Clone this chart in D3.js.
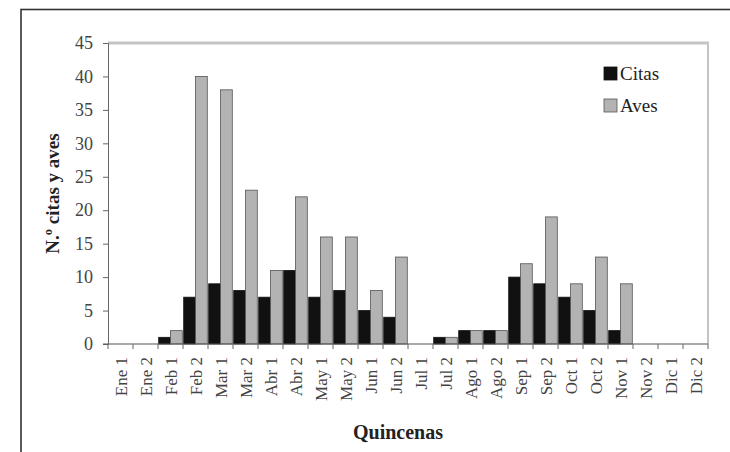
<!DOCTYPE html>
<html><head><meta charset="utf-8">
<script src="https://cdn.jsdelivr.net/npm/d3@7"></script>
<style>body{margin:0;background:#fff}svg{display:block}</style>
</head><body><svg id="c" width="730" height="452"></svg>
<script>
const categories = ["Ene 1","Ene 2","Feb 1","Feb 2","Mar 1","Mar 2","Abr 1","Abr 2","May 1","May 2","Jun 1","Jun 2","Jul 1","Jul 2","Ago 1","Ago 2","Sep 1","Sep 2","Oct 1","Oct 2","Nov 1","Nov 2","Dic 1","Dic 2"];
const citas = [0,0,1,7,9,8,7,11,7,8,5,4,0,1,2,2,10,9,7,5,2,0,0,0];
const aves  = [0,0,2,40,38,23,11,22,16,16,8,13,0,1,2,2,12,19,9,13,9,0,0,0];
const seriesNames = ["Citas","Aves"];
const yTicks = [0,5,10,15,20,25,30,35,40,45];

const FONT = "'Liberation Serif','Times New Roman',serif";
const svg = d3.select("#c");
const L = 108, R = 708, T = 43, B = 344;

// outer frame
svg.append("rect").attr("x",21).attr("y",9.5).attr("width",760).attr("height",500)
  .attr("fill","none").attr("stroke","#333").attr("stroke-width",1.6);

const x0 = d3.scaleBand().domain(categories).range([L,R]).padding(0);
const x1 = d3.scaleBand().domain(seriesNames).range([0,x0.bandwidth()]).paddingInner(0).paddingOuter(0.06);
const y = d3.scaleLinear().domain([0,45]).range([B,T]);

// plot border (top & right gray)
svg.append("line").attr("x1",L).attr("x2",R+1).attr("y1",T).attr("y2",T).attr("stroke","#c4c4c4").attr("stroke-width",3);
svg.append("line").attr("x1",R).attr("x2",R).attr("y1",T).attr("y2",B).attr("stroke","#c4c4c4").attr("stroke-width",2);

const fills = {Citas:"#111", Aves:"#b3b3b3"};
const strokes = {Citas:"#111", Aves:"#555"};
const data = categories.map((c,i)=>({c, Citas:citas[i], Aves:aves[i]}));
const g = svg.append("g");
data.forEach(d=>{
  seriesNames.forEach(s=>{
    if(d[s] <= 0) return;
    g.append("rect")
      .attr("x", x0(d.c)+x1(s)).attr("width", x1.bandwidth())
      .attr("y", y(d[s])).attr("height", B - y(d[s]))
      .attr("fill", fills[s]).attr("stroke", strokes[s]).attr("stroke-width",0.8);
  });
});

// y axis
const yAx = svg.append("g").attr("transform",`translate(${L},0)`)
  .call(d3.axisLeft(y).tickValues(yTicks).tickSize(5).tickPadding(10));
yAx.select(".domain").attr("stroke","#666");
yAx.selectAll(".tick line").attr("stroke","#666");
yAx.selectAll("text").attr("font-size",18).attr("fill","#444").style("font-family",FONT);

// x axis
svg.append("line").attr("x1",L-5).attr("x2",R).attr("y1",B).attr("y2",B).attr("stroke","#555").attr("stroke-width",1.2);
const bounds = categories.map(c=>x0(c)).concat([R]);
svg.append("g").selectAll("line").data(bounds).join("line")
  .attr("x1",d=>d).attr("x2",d=>d).attr("y1",B).attr("y2",B+5).attr("stroke","#666");
svg.append("g").selectAll("text").data(categories).join("text")
  .attr("transform",d=>`translate(${x0(d)+x0.bandwidth()/2+6},${B+13}) rotate(-90)`)
  .attr("text-anchor","end").attr("font-size",17).attr("fill","#444").style("font-family",FONT).text(d=>d);

// titles
svg.append("text").attr("x",(L+R)/2-10).attr("y",439).attr("text-anchor","middle")
  .attr("font-size",20).attr("font-weight","bold").attr("fill","#222").style("font-family",FONT).text("Quincenas");
svg.append("text").attr("transform",`translate(59,${(T+B)/2}) rotate(-90)`).attr("text-anchor","middle")
  .attr("font-size",19).attr("font-weight","bold").attr("fill","#222").style("font-family",FONT).text("N.º citas y aves");

// legend
const lg = svg.append("g");
seriesNames.forEach((s,i)=>{
  const yy = 67 + i*32;
  lg.append("rect").attr("x",604).attr("y",yy).attr("width",13).attr("height",13)
    .attr("fill",fills[s]).attr("stroke",strokes[s]).attr("stroke-width",0.8);
  lg.append("text").attr("x",620).attr("y",yy+13).attr("font-size",19).attr("fill","#222").style("font-family",FONT).text(s);
});
</script></body></html>
